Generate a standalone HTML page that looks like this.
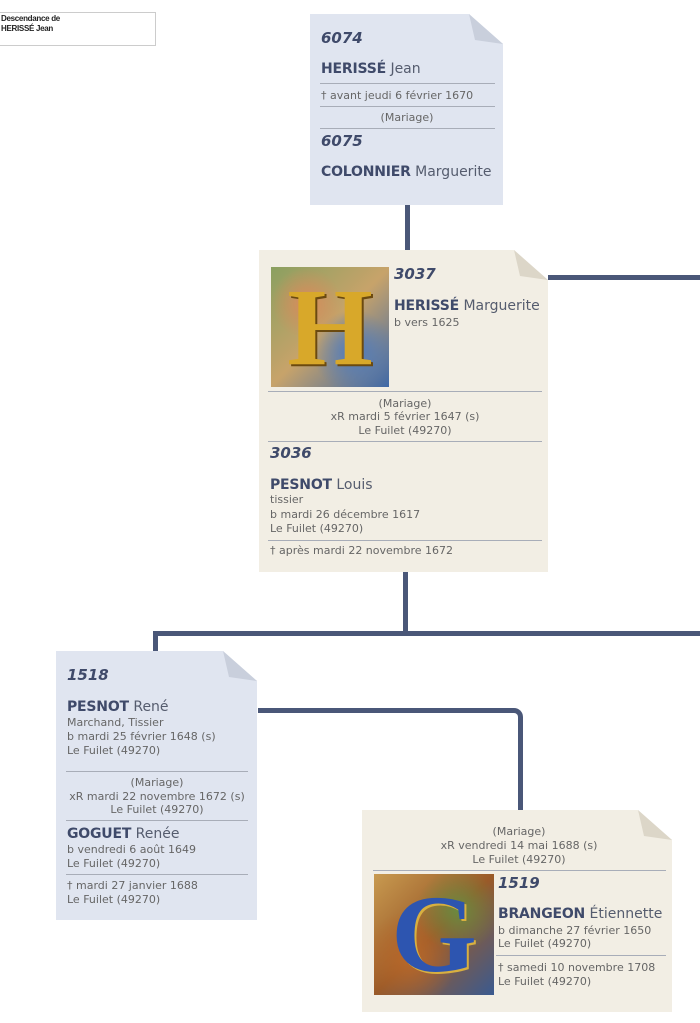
<!DOCTYPE html>
<html><head><meta charset="utf-8">
<style>
*{margin:0;padding:0;box-sizing:border-box}
body{width:700px;height:1023px;background:#fff;position:relative;overflow:hidden;font-family:"DejaVu Sans","Liberation Sans",sans-serif}
.card{position:absolute;box-shadow:0 1px 2px rgba(0,0,0,.25);clip-path:polygon(0 0,calc(100% - 34px) 0,100% 30px,100% 100%,0 100%)}
.blue{background:#e0e5f0}
.beige{background:#f2eee4}
.t{position:absolute;white-space:nowrap;line-height:14px}
.num{font-style:italic;font-weight:bold;font-size:15px;color:#3f4a6a}
.nm{font-size:14px;color:#3f4a6a}
.nm b{font-weight:bold;letter-spacing:-.2px}
.nm i{font-style:normal;color:#555c6e}
.sm{font-size:11px;color:#666}
.c{transform:translateX(-50%);text-align:center}
.sep{position:absolute;height:1px;background:#a8adb8}
.ln{position:absolute;background:#4a5778}
</style></head><body>

<div style="position:absolute;left:-2px;top:12px;width:158px;height:34px;border:1px solid #ccc;font:bold 8px 'Liberation Sans',sans-serif;color:#222;padding:1px 2px;line-height:10px;letter-spacing:-.3px">Descendance de<br>HERISSÉ Jean</div>

<div class="ln" style="left:405px;top:205px;width:5px;height:46px"></div>
<div class="ln" style="left:548px;top:275px;width:152px;height:5px"></div>
<div class="ln" style="left:403px;top:572px;width:5px;height:62px"></div>
<div class="ln" style="left:153px;top:631px;width:547px;height:5px;border-radius:5px 0 0 0"></div>
<div class="ln" style="left:153px;top:631px;width:5px;height:20px"></div>
<div style="position:absolute;left:258px;top:708px;width:265px;height:102px;border-top:5px solid #4a5778;border-right:5px solid #4a5778;border-top-right-radius:9px"></div>

<div class="card blue" style="left:310px;top:14px;width:193px;height:191px"></div>
<svg style="position:absolute;left:469px;top:14px" width="34" height="30"><polygon points="0,0 34,30 6,26" fill="#c9cfdc"/></svg>
<div class="t num" style="left:321px;top:31px">6074</div>
<div class="t nm" style="left:321px;top:62px"><b>HERISSÉ</b> <i>Jean</i></div>
<div class="sep" style="left:320px;top:83px;width:175px"></div>
<div class="t sm" style="left:321px;top:89px">† avant jeudi 6 février 1670</div>
<div class="sep" style="left:320px;top:106px;width:175px"></div>
<div class="t sm c" style="left:407px;top:111px">(Mariage)</div>
<div class="sep" style="left:320px;top:128px;width:175px"></div>
<div class="t num" style="left:321px;top:134px">6075</div>
<div class="t nm" style="left:321px;top:165px"><b>COLONNIER</b> <i>Marguerite</i></div>

<div class="card beige" style="left:259px;top:250px;width:289px;height:322px"></div>
<svg style="position:absolute;left:514px;top:250px" width="34" height="30"><polygon points="0,0 34,30 6,26" fill="#dcd6c8"/></svg>
<div style="position:absolute;left:271px;top:267px;width:118px;height:120px;background:radial-gradient(circle at 30% 30%,#d98a5a,transparent 30%),radial-gradient(circle at 70% 70%,#4d7bc0,transparent 35%),linear-gradient(135deg,#8aa060,#c7a36a 50%,#3f69a8);font:bold 110px 'Liberation Serif',serif;color:#d8a82a;text-align:center;line-height:120px;text-shadow:2px 2px 0 #6b4a10">H</div>
<div class="t num" style="left:394px;top:267px">3037</div>
<div class="t nm" style="left:394px;top:299px"><b>HERISSÉ</b> <i>Marguerite</i></div>
<div class="t sm" style="left:394px;top:316px">b vers 1625</div>
<div class="sep" style="left:268px;top:391px;width:274px"></div>
<div class="t sm c" style="left:405px;top:397px">(Mariage)</div>
<div class="t sm c" style="left:405px;top:410px">xR mardi 5 février 1647 (s)</div>
<div class="t sm c" style="left:405px;top:424px">Le Fuilet (49270)</div>
<div class="sep" style="left:268px;top:441px;width:274px"></div>
<div class="t num" style="left:270px;top:446px">3036</div>
<div class="t nm" style="left:270px;top:478px"><b>PESNOT</b> <i>Louis</i></div>
<div class="t sm" style="left:270px;top:493px">tissier</div>
<div class="t sm" style="left:270px;top:508px">b mardi 26 décembre 1617</div>
<div class="t sm" style="left:270px;top:522px">Le Fuilet (49270)</div>
<div class="sep" style="left:268px;top:540px;width:274px"></div>
<div class="t sm" style="left:270px;top:544px">† après mardi 22 novembre 1672</div>

<div class="card blue" style="left:56px;top:651px;width:201px;height:269px"></div>
<svg style="position:absolute;left:223px;top:651px" width="34" height="30"><polygon points="0,0 34,30 6,26" fill="#c9cfdc"/></svg>
<div class="t num" style="left:67px;top:668px">1518</div>
<div class="t nm" style="left:67px;top:700px"><b>PESNOT</b> <i>René</i></div>
<div class="t sm" style="left:67px;top:716px">Marchand, Tissier</div>
<div class="t sm" style="left:67px;top:730px">b mardi 25 février 1648 (s)</div>
<div class="t sm" style="left:67px;top:744px">Le Fuilet (49270)</div>
<div class="sep" style="left:66px;top:771px;width:182px"></div>
<div class="t sm c" style="left:157px;top:776px">(Mariage)</div>
<div class="t sm c" style="left:157px;top:790px">xR mardi 22 novembre 1672 (s)</div>
<div class="t sm c" style="left:157px;top:803px">Le Fuilet (49270)</div>
<div class="sep" style="left:66px;top:820px;width:182px"></div>
<div class="t nm" style="left:67px;top:827px"><b>GOGUET</b> <i>Renée</i></div>
<div class="t sm" style="left:67px;top:843px">b vendredi 6 août 1649</div>
<div class="t sm" style="left:67px;top:857px">Le Fuilet (49270)</div>
<div class="sep" style="left:66px;top:874px;width:182px"></div>
<div class="t sm" style="left:67px;top:879px">† mardi 27 janvier 1688</div>
<div class="t sm" style="left:67px;top:893px">Le Fuilet (49270)</div>

<div class="card beige" style="left:362px;top:810px;width:310px;height:202px"></div>
<svg style="position:absolute;left:638px;top:810px" width="34" height="30"><polygon points="0,0 34,30 6,26" fill="#dcd6c8"/></svg>
<div class="t sm c" style="left:519px;top:825px">(Mariage)</div>
<div class="t sm c" style="left:519px;top:839px">xR vendredi 14 mai 1688 (s)</div>
<div class="t sm c" style="left:519px;top:853px">Le Fuilet (49270)</div>
<div class="sep" style="left:373px;top:870px;width:293px"></div>
<div style="position:absolute;left:374px;top:874px;width:120px;height:121px;background:radial-gradient(circle at 70% 30%,#6a8a40,transparent 35%),radial-gradient(circle at 30% 70%,#b8682a,transparent 40%),linear-gradient(135deg,#c89a50,#9a5a28 50%,#3a5a90);font:bold 110px 'Liberation Serif',serif;color:#2d55b0;text-align:center;line-height:121px;text-shadow:2px 2px 0 #d8b040">G</div>
<div class="t num" style="left:498px;top:876px">1519</div>
<div class="t nm" style="left:498px;top:907px"><b>BRANGEON</b> <i>Étiennette</i></div>
<div class="t sm" style="left:498px;top:924px">b dimanche 27 février 1650</div>
<div class="t sm" style="left:498px;top:937px">Le Fuilet (49270)</div>
<div class="sep" style="left:496px;top:955px;width:170px"></div>
<div class="t sm" style="left:498px;top:961px">† samedi 10 novembre 1708</div>
<div class="t sm" style="left:498px;top:975px">Le Fuilet (49270)</div>

</body></html>
